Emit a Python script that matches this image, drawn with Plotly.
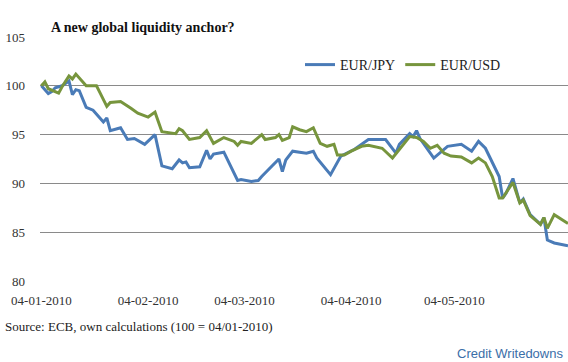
import plotly.graph_objects as go

# EUR/JPY index (100 = 04/01-2010)
jpy_dates = [
    "2010-01-04", "2010-01-06", "2010-01-07", "2010-01-08", "2010-01-10", "2010-01-12",
    "2010-01-13", "2010-01-14", "2010-01-15", "2010-01-17", "2010-01-19", "2010-01-20",
    "2010-01-22", "2010-01-23", "2010-01-24", "2010-01-26", "2010-01-27", "2010-01-29",
    "2010-01-31", "2010-02-03", "2010-02-06", "2010-02-08", "2010-02-11", "2010-02-13",
    "2010-02-14", "2010-02-15", "2010-02-16", "2010-02-19", "2010-02-21", "2010-02-22",
    "2010-02-23", "2010-02-26", "2010-03-02", "2010-03-03", "2010-03-06", "2010-03-08",
    "2010-03-09", "2010-03-14", "2010-03-15", "2010-03-16", "2010-03-18", "2010-03-20",
    "2010-03-22", "2010-03-24", "2010-03-25", "2010-03-29", "2010-04-01", "2010-04-05",
    "2010-04-09", "2010-04-14", "2010-04-17", "2010-04-18", "2010-04-21", "2010-04-22",
    "2010-04-23", "2010-04-24", "2010-04-26", "2010-04-28", "2010-05-02", "2010-05-06",
    "2010-05-09", "2010-05-11", "2010-05-13", "2010-05-15", "2010-05-17", "2010-05-18",
    "2010-05-19", "2010-05-21", "2010-05-23", "2010-05-24", "2010-05-26", "2010-05-29",
    "2010-05-30", "2010-05-31", "2010-06-02", "2010-06-06",
]
jpy_values = [
    100.0, 99.2, 99.4, 99.8, 100.0, 100.5,
    99.1, 99.6, 99.5, 97.8, 97.5, 97.1,
    96.3, 96.7, 95.4, 95.6, 95.7, 94.5,
    94.6, 94.0, 95.0, 91.8, 91.5, 92.4,
    92.1, 92.2, 91.6, 91.7, 93.4, 92.5,
    93.0, 93.2, 90.3, 90.4, 90.2, 90.3,
    90.7, 92.5, 91.2, 92.4, 93.3, 93.2,
    93.1, 93.3, 92.6, 90.9, 92.8, 93.5,
    94.5, 94.5, 93.1, 94.0, 95.1, 94.8,
    95.4, 94.6, 93.6, 92.6, 93.8, 94.0,
    93.3, 94.3, 93.6, 92.1, 90.7, 88.5,
    89.0, 90.5, 88.0, 88.4, 86.8, 85.8,
    86.5, 84.2, 83.9, 83.6,
]

# EUR/USD index (100 = 04/01-2010)
usd_dates = [
    "2010-01-04", "2010-01-05", "2010-01-06", "2010-01-09", "2010-01-10", "2010-01-12",
    "2010-01-13", "2010-01-14", "2010-01-17", "2010-01-20", "2010-01-21", "2010-01-23",
    "2010-01-24", "2010-01-27", "2010-01-30", "2010-02-01", "2010-02-04", "2010-02-06",
    "2010-02-08", "2010-02-12", "2010-02-13", "2010-02-14", "2010-02-16", "2010-02-19",
    "2010-02-21", "2010-02-23", "2010-02-26", "2010-03-01", "2010-03-02", "2010-03-03",
    "2010-03-06", "2010-03-09", "2010-03-10", "2010-03-13", "2010-03-14", "2010-03-15",
    "2010-03-17", "2010-03-18", "2010-03-20", "2010-03-22", "2010-03-24", "2010-03-26",
    "2010-03-28", "2010-03-30", "2010-03-31", "2010-04-02", "2010-04-04", "2010-04-07",
    "2010-04-09", "2010-04-13", "2010-04-16", "2010-04-19", "2010-04-21", "2010-04-23",
    "2010-04-25", "2010-04-27", "2010-04-29", "2010-05-01", "2010-05-03", "2010-05-06",
    "2010-05-09", "2010-05-11", "2010-05-13", "2010-05-15", "2010-05-17", "2010-05-18",
    "2010-05-21", "2010-05-23", "2010-05-24", "2010-05-26", "2010-05-29", "2010-05-30",
    "2010-05-31", "2010-06-02", "2010-06-06",
]
usd_values = [
    100.0, 100.4, 99.7, 99.25, 99.9, 101.0,
    100.7, 101.2, 100.0, 100.0, 99.3, 97.9,
    98.3, 98.4, 97.7, 97.2, 96.8, 97.3,
    95.3, 95.1, 95.6, 95.4, 94.5, 94.7,
    95.4, 94.1, 94.7, 94.3, 93.9, 94.3,
    94.1, 95.0, 94.5, 94.7, 95.0, 94.4,
    94.7, 95.8, 95.5, 95.3, 95.7, 94.1,
    93.8, 94.0, 92.9, 92.9, 93.3, 93.8,
    93.9, 93.6, 92.6, 93.9, 94.8, 94.7,
    94.3, 93.6, 93.9, 93.1, 92.8, 92.7,
    92.1, 92.6, 92.1, 90.7, 88.5, 88.5,
    90.1, 88.0, 88.3, 86.7, 85.8, 86.5,
    85.4, 86.8, 85.9,
]

tick_dates = ["2010-01-04", "2010-02-04", "2010-03-04", "2010-04-04", "2010-05-04"]
tick_labels = ["04-01-2010", "04-02-2010", "04-03-2010", "04-04-2010", "04-05-2010"]
y_ticks = [80, 85, 90, 95, 100, 105]

SERIF = "Liberation Serif"
BLUE = "#4a7bb7"
GREEN = "#77953d"

fig = go.Figure()
fig.add_trace(go.Scatter(x=jpy_dates, y=jpy_values, mode="lines", name="EUR/JPY",
                         line=dict(color=BLUE, width=3)))
fig.add_trace(go.Scatter(x=usd_dates, y=usd_values, mode="lines", name="EUR/USD",
                         line=dict(color=GREEN, width=3)))

fig.update_layout(
    width=568, height=362,
    margin=dict(l=40, r=0, t=37, b=81),
    paper_bgcolor="white", plot_bgcolor="white",
    font=dict(family=SERIF, size=13, color="#333333"),
    showlegend=True,
    legend=dict(orientation="h", x=(300 - 40) / 528, y=(281 - 65) / 244,
                xanchor="left", yanchor="middle", font=dict(family=SERIF, size=14, color="#222222"),
                bgcolor="rgba(0,0,0,0)", itemwidth=30),
    xaxis=dict(type="date", range=["2010-01-03 14:00", "2010-06-06 00:00"],
               tickvals=tick_dates, ticktext=tick_labels, showgrid=False,
               showline=False, zeroline=False, ticks="", ticklabelstandoff=10,
               tickfont=dict(family=SERIF, size=13, color="#333333")),
    yaxis=dict(range=[80, 105], tickvals=y_ticks, showgrid=True, gridcolor="#8a8a8a",
               gridwidth=1, zeroline=False, showline=False, ticks="", ticklabelstandoff=14,
               tickfont=dict(family=SERIF, size=13, color="#333333")),
    annotations=[
        dict(text="<b>A new global liquidity anchor?</b>", xref="paper", yref="paper",
             x=(49 - 40) / 528, y=(281 - 27) / 244, xanchor="left", yanchor="middle",
             showarrow=False, font=dict(family=SERIF, size=14, color="#111111")),
        dict(text="Source: ECB, own calculations (100 = 04/01-2010)", xref="paper", yref="paper",
             x=(3 - 40) / 528, y=(281 - 326) / 244, xanchor="left", yanchor="middle",
             showarrow=False, font=dict(family=SERIF, size=13, color="#222222")),
        dict(text="Credit Writedowns", xref="paper", yref="paper",
             x=(565 - 40) / 528, y=(281 - 353) / 244, xanchor="right", yanchor="middle",
             showarrow=False, font=dict(family="Liberation Sans", size=13, color="#3b6ea8")),
    ],
)

fig.write_html("out.html", config={"displayModeBar": False},
               post_script="document.body.style.margin='0px';")
